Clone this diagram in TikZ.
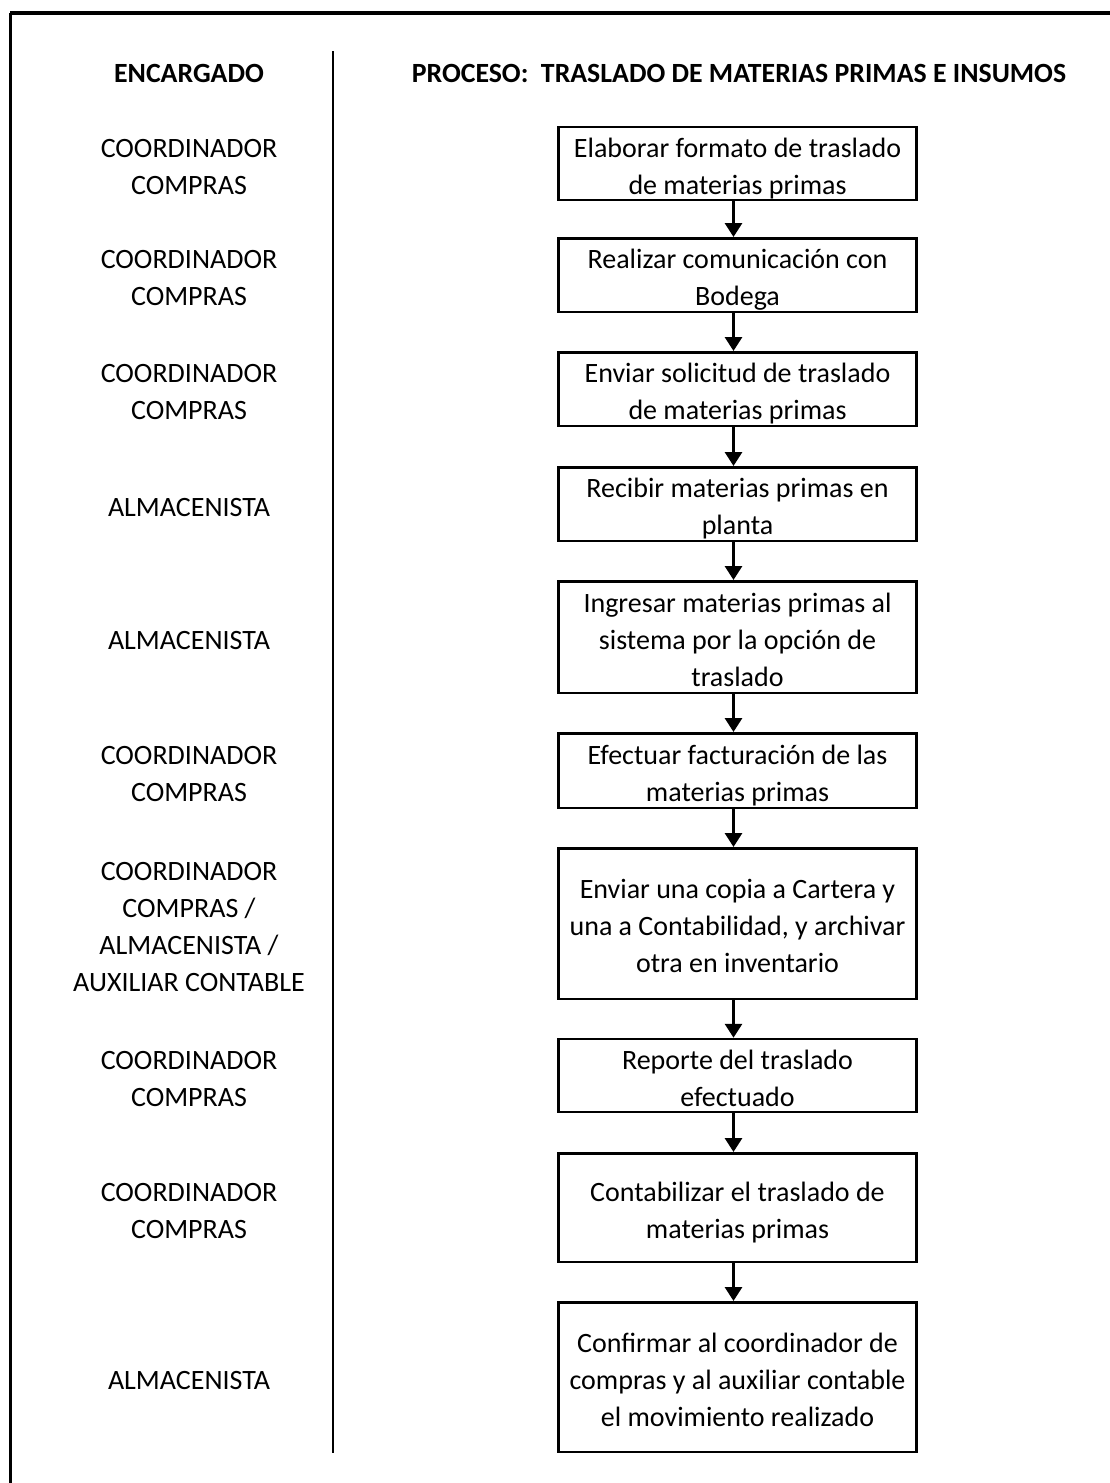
\documentclass[tikz,border=0pt]{standalone}
\usepackage{fontspec}
\setmainfont{Carlito}
\usetikzlibrary{arrows.meta}
% fixed line height for the first line and fixed depth for the last line
\newcommand\topstr{\rule{0pt}{30pt}}
\newcommand\botstr{\rule[-6pt]{0pt}{6pt}}
\begin{document}
\begin{tikzpicture}[x=1pt,y=-1pt,
  every node/.style={font=\fontsize{28}{37}\selectfont, align=center, inner sep=0pt},
  stepbox/.style={draw, line width=2.5pt, minimum width=358pt},
  role/.style={},
  flow/.style={line width=3pt, -{Triangle[length=14pt,width=17pt]}},
  heading/.style={font=\fontsize{27.8}{37}\selectfont\bfseries}
]
\useasboundingbox (0,0) rectangle (1110,1483);

% outer frame (top and left edges)
\coordinate (fl) at (10,13);
\coordinate (fr) at (1112,13);
\coordinate (fb) at (10,1485);
\draw[line width=4pt] (fr) -- (fl);
\draw[line width=3pt] (fl) -- (fb);

% column divider
\coordinate (dtop) at (333,51);
\coordinate (dbot) at (333,1453);
\draw[line width=2pt] (dtop) -- (dbot);

% headings
\node[heading] (hrole) at (189,70) {\topstr ENCARGADO\botstr};
\node[heading] (hproc) at (739,70) {\topstr PROCESO:\ \ TRASLADO DE MATERIAS PRIMAS E INSUMOS\botstr};

% process steps
\node[stepbox, minimum height=68.5pt] (b1) at (737.5,163.5) {\topstr Elaborar formato de traslado\\de materias primas\botstr};
\node[stepbox, minimum height=73.5pt] (b2) at (737.5,275) {\topstr Realizar comunicación con\\Bodega\botstr};
\node[stepbox, minimum height=73.5pt] (b3) at (737.5,389) {\topstr Enviar solicitud de traslado\\de materias primas\botstr};
\node[stepbox, minimum height=73.5pt] (b4) at (737.5,504) {\topstr Recibir materias primas en\\planta\botstr};
\node[stepbox, minimum height=111.5pt] (b5) at (737.5,637) {\topstr Ingresar materias primas al\\sistema por la opción de\\traslado\botstr};
\node[stepbox, minimum height=74.5pt] (b6) at (737.5,770.5) {\topstr Efectuar facturación de las\\materias primas\botstr};
\node[stepbox, minimum height=150.5pt] (b7) at (737.5,923.5) {\topstr Enviar una copia a Cartera y\\una a Contabilidad, y archivar\\otra en inventario\botstr};
\node[stepbox, minimum height=72.5pt] (b8) at (737.5,1075.5) {\topstr Reporte del traslado\\efectuado\botstr};
\node[stepbox, minimum height=108.5pt] (b9) at (737.5,1207.5) {\topstr Contabilizar el traslado de\\materias primas\botstr};
\node[stepbox, minimum height=149.5pt] (b10) at (737.5,1377) {\topstr Confirmar al coordinador de\\compras y al auxiliar contable\\el movimiento realizado\botstr};

% responsible roles
\node[role] (r1) at (189,163.5) {\topstr COORDINADOR\\COMPRAS\botstr};
\node[role] (r2) at (189,275) {\topstr COORDINADOR\\COMPRAS\botstr};
\node[role] (r3) at (189,389) {\topstr COORDINADOR\\COMPRAS\botstr};
\node[role] (r4) at (189,504) {\topstr ALMACENISTA\botstr};
\node[role] (r5) at (189,637) {\topstr ALMACENISTA\botstr};
\node[role] (r6) at (189,770.5) {\topstr COORDINADOR\\COMPRAS\botstr};
\node[role] (r7) at (189,923.5) {\topstr COORDINADOR\\COMPRAS /\\ALMACENISTA /\\AUXILIAR CONTABLE\botstr};
\node[role] (r8) at (189,1075.5) {\topstr COORDINADOR\\COMPRAS\botstr};
\node[role] (r9) at (189,1207.5) {\topstr COORDINADOR\\COMPRAS\botstr};
\node[role] (r10) at (189,1377) {\topstr ALMACENISTA\botstr};

% connectors
\foreach \a/\b in {b1/b2,b2/b3,b3/b4,b4/b5,b5/b6,b6/b7,b7/b8,b8/b9,b9/b10}
  \draw[flow] ([xshift=-4pt]\a.south) -- ([xshift=-4pt]\b.north);
\end{tikzpicture}
\end{document}
